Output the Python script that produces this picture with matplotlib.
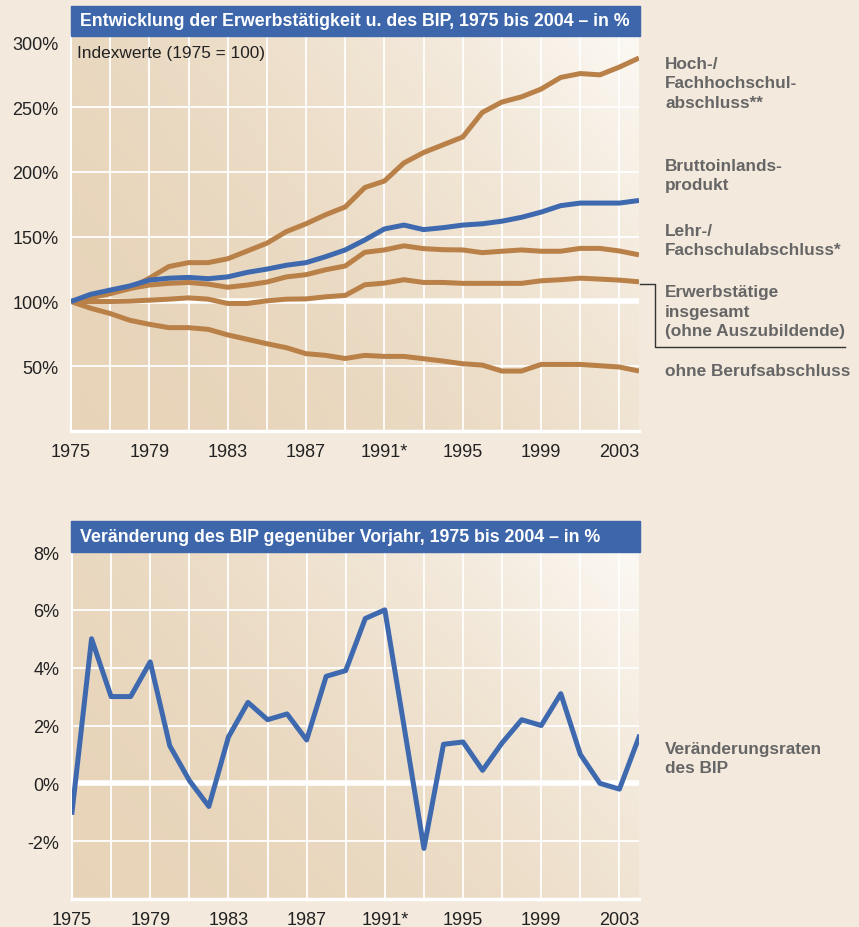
import numpy as np
import matplotlib
matplotlib.use("Agg")
from matplotlib import pyplot as plt
from matplotlib.patches import Rectangle
from matplotlib.lines import Line2D

plt.rcParams['font.family'] = ['Liberation Sans', 'DejaVu Sans']

# data
years = list(range(1975, 2005))
hochschule = [100, 103, 106, 110, 118, 127, 130, 130, 133, 139, 145, 154, 160, 167, 173,
              188, 193, 207, 215, 221, 227, 246, 254, 258, 264, 273, 276, 275, 281, 288]
bip_index = [100, 105.5, 108.8, 112, 116.5, 118, 118.6, 117.6, 119, 122.5, 125, 128, 130, 134.6, 139.8,
             147.5, 156, 159, 155.5, 157, 159, 160, 162, 165, 169, 174, 176, 176, 176, 178]
lehre = [100, 104, 107, 110, 112.7, 114, 114.7, 113.4, 111, 112.7, 115, 119, 120.7, 124.5, 127.4,
         138, 139.8, 143, 140.8, 140, 139.8, 137.7, 138.8, 139.8, 138.8, 138.8, 141, 141, 139, 136]
erwerb = [100, 100, 100, 100.3, 101, 101.8, 102.8, 101.8, 98.5, 98.5, 100.5, 101.8, 102, 103.6, 104.7,
          112.9, 114.2, 116.8, 114.7, 114.7, 114, 114, 114, 114, 116, 116.8, 118, 117.3, 116.5, 115.2]
ohne = [100, 94.8, 90.7, 85.5, 82.4, 79.8, 79.8, 78.5, 74.2, 70.8, 67.4, 64.3, 59.7, 58.4, 56,
        58.4, 57.6, 57.6, 55.8, 54, 51.9, 50.9, 46.3, 46.3, 51.4, 51.4, 51.4, 50.4, 49.4, 46.3]
bip_change = [-1.0, 5.0, 3.0, 3.0, 4.2, 1.3, 0.1, -0.8, 1.6, 2.8, 2.2, 2.4, 1.5, 3.7, 3.9,
              5.7, 6.0, 1.9, -2.25, 1.35, 1.43, 0.45, 1.4, 2.2, 2.0, 3.1, 1.0, 0.0, -0.2, 1.6]

tick_years = [1975, 1979, 1983, 1987, 1991, 1995, 1999, 2003]
tick_labels = ['1975', '1979', '1983', '1987', '1991*', '1995', '1999', '2003']

BG = '#F3E9DD'
BROWN = '#B98048'
BLUE = '#3E69AF'
BAR = '#3E67AB'
LABEL = '#666666'

W, H = 859, 928


def fx(px):
    return px / W


def fy(py):
    return 1 - py / H


def gradient(ax):
    x = np.linspace(0, 1, 200)
    y = np.linspace(0, 1, 200)
    X, Y = np.meshgrid(x, y)
    t = np.clip(0.65 * X + 0.35 * Y, 0, 1) ** 2
    tan = np.array([0.906, 0.831, 0.725])
    white = np.array([0.988, 0.976, 0.957])
    img = tan[None, None, :] + (white - tan)[None, None, :] * t[:, :, None]
    ax.imshow(img, extent=[0, 1, 0, 1], transform=ax.transAxes, origin='lower',
              aspect='auto', zorder=0)


def style_axes(ax):
    ax.set_facecolor('none')
    for s in ['top', 'right']:
        ax.spines[s].set_visible(False)
    ax.spines['left'].set_color('white')
    ax.spines['left'].set_linewidth(1.5)
    ax.spines['bottom'].set_color('white')
    ax.spines['bottom'].set_linewidth(2.5)
    ax.tick_params(length=0, labelsize=13, colors='#222222')
    ax.tick_params(axis='y', pad=9)
    ax.tick_params(axis='x', pad=9)
    for y in range(1977, 2005, 2):
        ax.axvline(y, color='white', lw=1.3, zorder=1)
    ax.set_xlim(1975, 2004)
    ax.set_xticks(tick_years)
    ax.set_xticklabels(tick_labels)


def title_bar(x0, y0, x1, y1, text):
    fig.add_artist(Rectangle((fx(x0), fy(y1)), fx(x1) - fx(x0), fy(y0) - fy(y1),
                             transform=fig.transFigure, color=BAR, zorder=5))
    fig.text(fx(x0 + 9), fy((y0 + y1) / 2), text, color='white', fontsize=12.8,
             fontweight='bold', va='center', ha='left', zorder=6)


fig = plt.figure(figsize=(W / 100, H / 100), dpi=100, facecolor=BG)

# top chart
ax1 = fig.add_axes([fx(71), fy(432), fx(639) - fx(71), fy(37) - fy(432)])
gradient(ax1)
style_axes(ax1)
ax1.set_ylim(0, 305)
ax1.set_yticks([50, 100, 150, 200, 250, 300])
ax1.set_yticklabels(['50%', '100%', '150%', '200%', '250%', '300%'])
for v in [50, 150, 200, 250]:
    ax1.axhline(v, color='white', lw=1.3, zorder=1)
ax1.axhline(100, color='white', lw=4, zorder=1)

for series, c in [(ohne, BROWN), (erwerb, BROWN), (lehre, BROWN), (hochschule, BROWN), (bip_index, BLUE)]:
    ax1.plot(years, series, color=c, lw=3.6, solid_capstyle='butt', zorder=3)

ax1.text(0.01, 0.957, 'Indexwerte (1975 = 100)', transform=ax1.transAxes, fontsize=12.4,
         color='#222222', va='center', ha='left')
title_bar(71, 7, 640, 37, 'Entwicklung der Erwerbstätigkeit u. des BIP, 1975 bis 2004 – in %')

# bottom chart
ax2 = fig.add_axes([fx(72), fy(900), fx(639) - fx(72), fy(553) - fy(900)])
gradient(ax2)
style_axes(ax2)
ax2.set_ylim(-4, 8)
ax2.set_yticks([-2, 0, 2, 4, 6, 8])
ax2.set_yticklabels(['-2%', '0%', '2%', '4%', '6%', '8%'])
for v in [-2, 2, 4, 6]:
    ax2.axhline(v, color='white', lw=1.3, zorder=1)
ax2.axhline(0, color='white', lw=4, zorder=1)
ax2.plot(years, bip_change, color=BLUE, lw=3.6, zorder=3)
title_bar(71, 522, 640, 553, 'Veränderung des BIP gegenüber Vorjahr, 1975 bis 2004 – in %')

# right-hand labels
labels = [
    ('Hoch-/\nFachhochschul-\nabschluss**', 84),
    ('Bruttoinlands-\nprodukt', 176),
    ('Lehr-/\nFachschulabschluss*', 241),
    ('Erwerbstätige\ninsgesamt\n(ohne Auszubildende)', 312),
    ('ohne Berufsabschluss', 372),
    ('Veränderungsraten\ndes BIP', 759),
]
for txt, py in labels:
    fig.text(fx(665), fy(py), txt, color=LABEL, fontsize=12.4, fontweight='bold',
             va='center', ha='left', linespacing=1.35)

# bracket for Erwerbstätige
bx = [fx(640), fx(655), fx(655), fx(845)]
by = [fy(285), fy(285), fy(348), fy(348)]
fig.add_artist(Line2D(bx, by, transform=fig.transFigure, color='#333333', lw=1))

fig.savefig('out.png', dpi=100, facecolor=BG)
